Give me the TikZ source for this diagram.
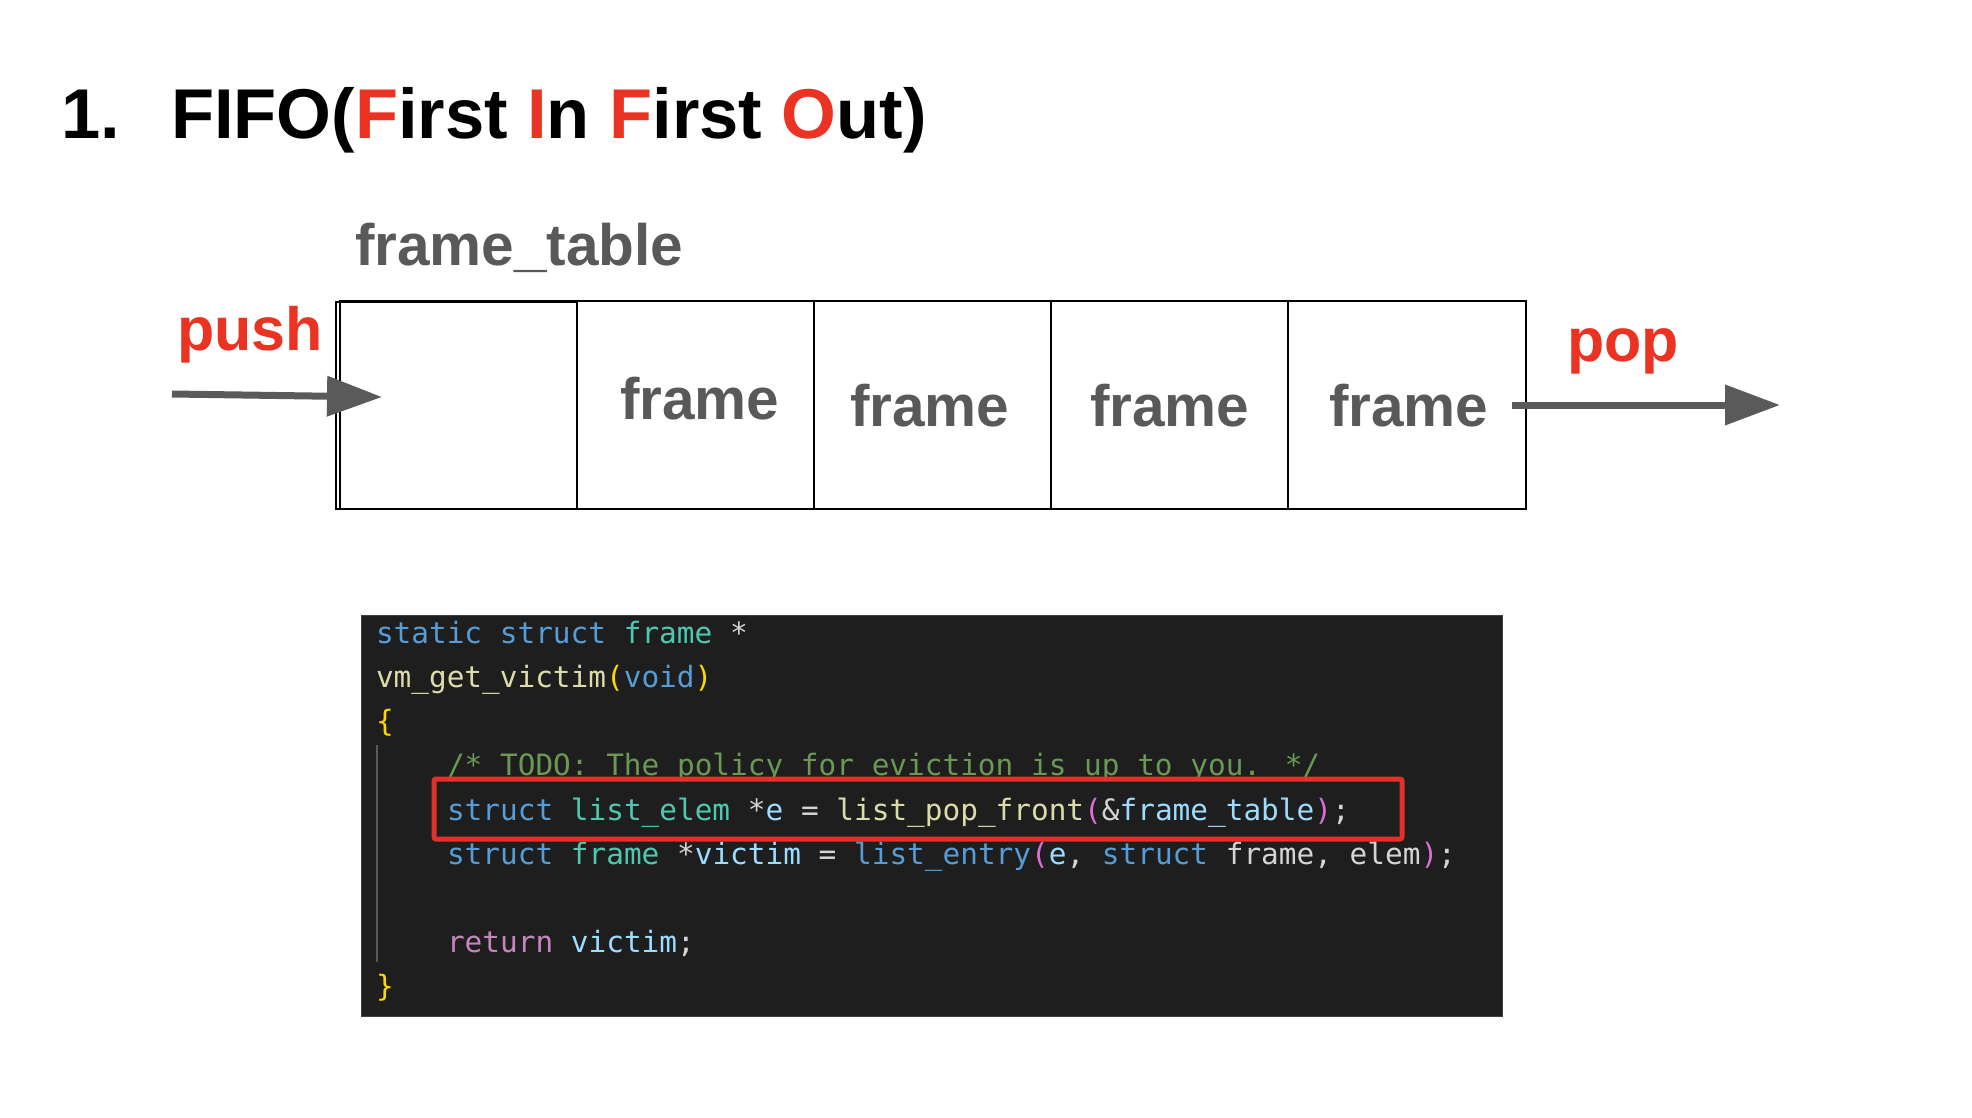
\documentclass[tikz,border=0pt]{standalone}
\usepackage{fontspec}
\setmainfont{Liberation Sans}
\newfontfamily\codefont{DejaVu Sans Mono}
\usetikzlibrary{arrows.meta}
\definecolor{myred}{HTML}{EA3323}
\definecolor{mygray}{HTML}{595959}
\definecolor{arrowgray}{HTML}{5A5A5A}
\definecolor{codebg}{HTML}{1E1E1E}
\definecolor{kw}{HTML}{569CD6}
\definecolor{ty}{HTML}{4EC9B0}
\definecolor{fn}{HTML}{DCDCAA}
\definecolor{va}{HTML}{9CDCFE}
\definecolor{cm}{HTML}{6A9955}
\definecolor{rt}{HTML}{C586C0}
\definecolor{pa}{HTML}{DA70D6}
\definecolor{br}{HTML}{FFD700}
\definecolor{pl}{HTML}{D4D4D4}
\definecolor{hl}{HTML}{E3302A}
\begin{document}
\begin{tikzpicture}[x=1pt,y=-1pt,
  txt/.style={anchor=base west,inner sep=0pt,outer sep=0pt},
  title/.style={txt,font=\bfseries\fontsize{70.5}{84}\selectfont},
  lbl/.style={txt,font=\bfseries\fontsize{61}{72}\selectfont,text=myred},
  graylbl/.style={txt,font=\bfseries\fontsize{58.5}{70}\selectfont,text=mygray},
  cell/.style={draw=black,line width=2pt,inner sep=0pt,outer sep=0pt,minimum height=208pt},
  code/.style={txt,font=\codefont\fontsize{29.4}{35}\selectfont,text=pl},
  bigarrow/.style={draw=arrowgray,line width=7pt,-{Triangle[length=55pt,width=39pt]}}
]
\useasboundingbox (0,0) rectangle (1972,1118);
\fill[white] (0,0) rectangle (1972,1118);

% title
\node[title] (num) at (61,139) {1.};
\node[title] (ttl) at (171,139) {FIFO(\textcolor{myred}{F}irst \textcolor{myred}{I}n \textcolor{myred}{F}irst \textcolor{myred}{O}ut)};

% frame table label
\node[graylbl] (ftl) at (355,265) {frame\_table};

% cells
\draw[line width=1.5pt] (336,302) rectangle (577,509);
\node[cell,minimum width=237pt] (c1) at (458.5,405) {};
\node[cell,minimum width=237pt] (c2) at (695.5,405) {};
\node[cell,minimum width=237pt] (c3) at (932.5,405) {};
\node[cell,minimum width=237pt] (c4) at (1169.5,405) {};
\node[cell,minimum width=238pt] (c5) at (1407,405) {};

\node[graylbl] (f2) at (620,419) {frame};
\node[graylbl] (f3) at (850,426) {frame};
\node[graylbl] (f4) at (1090,426) {frame};
\node[graylbl] (f5) at (1329,426) {frame};

% push / pop
\node[lbl] (push) at (177,350) {push};
\node[lbl] (pop) at (1567,361) {pop};
\coordinate (pushS) at (172,394);
\coordinate (pushE) at (382,397);
\coordinate (popS) at (1512,405);
\coordinate (popE) at (1780,405);
\draw[bigarrow] (pushS) -- (pushE);
\draw[bigarrow] (popS) -- (popE);

% code block
\node[draw=black!75,fill=codebg,line width=1pt,inner sep=0pt,minimum width=1141pt,minimum height=401pt,anchor=north west] (codebox) at (361,615) {};
\coordinate (gA) at (377,745);
\coordinate (gB) at (377,962);
\draw[draw=black!65,line width=1.5pt] (gA) -- (gB);

\node[code] (l1) at (376,643) {\textcolor{kw}{static struct} \textcolor{ty}{frame} *};
\node[code] (l2) at (376,687) {\textcolor{fn}{vm\_get\_victim}\textcolor{br}{(}\textcolor{kw}{void}\textcolor{br}{)}};
\node[code] (l3) at (376,731) {\textcolor{br}{\{}};
\node[code] (l4) at (447,775) {\textcolor{cm}{/* TODO: The policy for eviction is up to you. */}};
\node[code] (l5) at (447,820) {\textcolor{kw}{struct} \textcolor{ty}{list\_elem} *\textcolor{va}{e} = \textcolor{fn}{list\_pop\_front}\textcolor{pa}{(}\&\textcolor{va}{frame\_table}\textcolor{pa}{)};};
\node[code] (l6) at (447,864) {\textcolor{kw}{struct} \textcolor{ty}{frame} *\textcolor{va}{victim} = \textcolor{kw}{list\_entry}\textcolor{pa}{(}\textcolor{va}{e}, \textcolor{kw}{struct} frame, elem\textcolor{pa}{)};};
\node[code] (l8) at (447,952) {\textcolor{rt}{return} \textcolor{va}{victim};};
\node[code] (l9) at (376,996) {\textcolor{br}{\}}};

\draw[hl,line width=5pt,rounded corners=2pt] (434,779) rectangle (1402,839);
\end{tikzpicture}
\end{document}
